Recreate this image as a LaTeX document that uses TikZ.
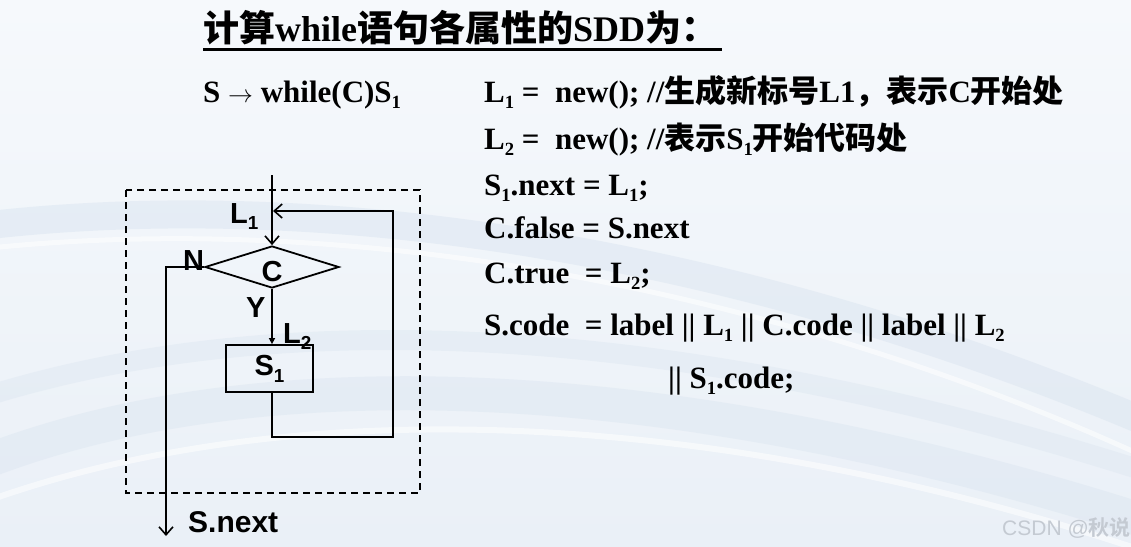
\documentclass[tikz,border=0pt]{standalone}
\usepackage{fontspec}
\usepackage{graphicx}
\setmainfont{Liberation Serif}
\newfontfamily\cjk{Noto Sans CJK SC Bold}
\newfontfamily\arl{Liberation Sans}
\usetikzlibrary{shapes.geometric,arrows.meta}
\newcommand\sbs[1]{\raisebox{-0.2em}{\scalebox{0.6}{#1}}}
\newcommand\dsb[1]{\raisebox{-0.24em}{\scalebox{0.65}{#1}}}
\definecolor{bgtop}{RGB}{246,249,252}
\definecolor{bgbot}{RGB}{234,240,247}
\definecolor{swoosh}{RGB}{216,227,239}
\definecolor{wmark}{RGB}{196,202,210}
\tikzset{
  serif/.style={anchor=base west,inner sep=0pt,font=\fontsize{31}{36}\selectfont\bfseries},
  ttl/.style={anchor=base west,inner sep=0pt,font=\fontsize{36}{40}\selectfont\bfseries},
  dlabel/.style={anchor=base west,inner sep=0pt,font=\arl\fontsize{29}{32}\selectfont\bfseries},
  flow/.style={line width=1.8pt,draw=black},
  openarrow/.style={-{Straight Barb[length=8pt,width=14pt,line width=1.6pt]}},
  smallarrow/.style={-{Triangle[length=6pt,width=6pt]}},
  dashbox/.style={line width=1.8pt,dash pattern=on 7pt off 5pt},
  decision/.style={diamond,draw,line width=1.8pt,minimum width=134pt,minimum height=42pt,inner sep=0pt,font=\arl\fontsize{29}{32}\selectfont\bfseries},
  stepbox/.style={rectangle,draw,line width=1.8pt,minimum width=87pt,minimum height=47pt,inner sep=0pt,font=\arl\fontsize{29}{32}\selectfont\bfseries},
}
\begin{document}
\begin{tikzpicture}[x=1pt,y=-1pt]
% background
\shade[top color=bgtop,bottom color=bgbot] (0,0) rectangle (1131,546);
\useasboundingbox (0,0) rectangle (1131,546);
\begin{scope}
\clip (0,0) rectangle (1131,546);
\draw[swoosh,line width=28pt,opacity=0.45] (-10,225) .. controls (350,185) and (760,260) .. (1141,420);
\draw[white,line width=5pt,opacity=0.55] (-10,248) .. controls (360,210) and (780,290) .. (1141,455);
\draw[swoosh,line width=34pt,opacity=0.40] (-10,460) .. controls (280,350) and (700,380) .. (1141,520);
\draw[white,line width=6pt,opacity=0.55] (-10,500) .. controls (300,390) and (720,410) .. (1141,550);
\draw[swoosh,line width=20pt,opacity=0.35] (-10,395) .. controls (300,300) and (700,330) .. (1141,470);
\end{scope}

% title
\node[ttl] (title) at (203,41) {{\cjk 计算}while{\cjk 语句各属性的}SDD{\cjk 为：}};
\draw[line width=3pt] (203,49) -- (722,49);

% production
\node[serif] (prod) at (203,102) {S $\rightarrow$ while(C)S\sbs{1}};

% rules
\node[serif] (r1) at (484,102) {L\sbs{1} =\ \ new(); //{\cjk 生成新标号}L1{\cjk ，表示}C{\cjk 开始处}};
\node[serif] (r2) at (484,149) {L\sbs{2} =\ \ new(); //{\cjk 表示}S\sbs{1}{\cjk 开始代码处}};
\node[serif] (r3) at (484,195) {S\sbs{1}.next = L\sbs{1};};
\node[serif] (r4) at (484,238) {C.false = S.next};
\node[serif] (r5) at (484,283) {C.true\ \ = L\sbs{2};};
\node[serif] (r6) at (484,335) {S.code\ \ = label || L\sbs{1} || C.code || label || L\sbs{2}};
\node[serif] (r7) at (668,388) {|| S\sbs{1}.code;};

% flowchart
\draw[dashbox] (126,190) rectangle (420,493);
\coordinate (entry) at (272,175);
\node[decision] (cond) at (272,267) {\raisebox{-3.5pt}[21pt][0pt]{C}};
\node[stepbox] (body) at (269.5,368.5) {S\dsb{1}};
\coordinate (bodyout) at (272,392);
\coordinate (lp1) at (272,437);
\coordinate (lp2) at (393,437);
\coordinate (lp3) at (393,211);
\coordinate (lp4) at (273,211);
\coordinate (nturn) at (166,267);
\coordinate (nend) at (166,536);

\draw[flow,openarrow] (entry) -- (cond.north);
\draw[flow,smallarrow] (cond.south) -- (cond.south |- body.north);
\draw[flow,openarrow] (bodyout) -- (lp1) -- (lp2) -- (lp3) -- (lp4);
\draw[flow,openarrow] (cond.west) -- (nturn) -- (nend);

\node[dlabel] (l1) at (230,223) {L\dsb{1}};
\node[dlabel] (nlab) at (183,270) {N};
\node[dlabel] (ylab) at (246,317) {Y};
\node[dlabel] (l2) at (283,343) {L\dsb{2}};
\node[dlabel,font=\arl\fontsize{30}{32}\selectfont\bfseries] (snext) at (188,532) {S.next};

% watermark
\node[anchor=base west,inner sep=0pt,text=wmark,font=\arl\fontsize{21}{24}\selectfont] (wm) at (1002,535) {CSDN @{\cjk 秋说}};
\end{tikzpicture}
\end{document}
